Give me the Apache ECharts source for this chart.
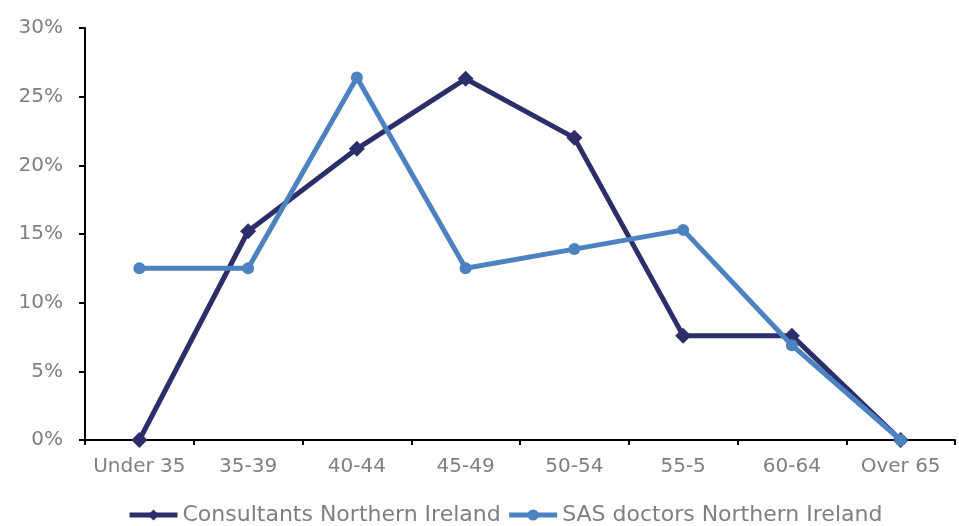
<!DOCTYPE html>
<html>
<head>
<meta charset="utf-8">
<script src="https://cdn.jsdelivr.net/npm/echarts@6/dist/echarts.min.js"></script>
<style>
  html, body { margin: 0; padding: 0; background: #ffffff; }
  #chart { width: 959px; height: 526px; }
</style>
</head>
<body>
<div id="chart"></div>
<script>
// Age bands
const ageBands = ['Under 35', '35-39', '40-44', '45-49', '50-54', '55-5', '60-64', 'Over 65'];

// Share of doctors in each age band (%)
const consultantsNI = [0, 15.2, 21.2, 26.3, 22.0, 7.6, 7.6, 0];
const sasDoctorsNI = [12.5, 12.5, 26.4, 12.5, 13.9, 15.3, 6.9, 0];

// Y axis scale
const yMin = 0;
const yMax = 30;
const yStep = 5;

const navy = '#2C2E6A';
const lightBlue = '#4D82C1';
const labelGrey = '#7f7f7f';
const fontFamily = '"DejaVu Sans", "Noto Sans", sans-serif';

const chart = echarts.init(document.getElementById('chart'), null, { renderer: 'canvas' });

chart.setOption({
  animation: false,
  backgroundColor: '#ffffff',
  grid: { left: 85, right: 4, top: 28, bottom: 86, containLabel: false },
  legend: {
    top: 499,
    left: 122,
    itemWidth: 48,
    itemHeight: 14,
    itemGap: 6,
    lineStyle: { width: 5 },
    textStyle: { color: labelGrey, fontSize: 22, fontFamily: fontFamily },
    data: ['Consultants Northern Ireland', 'SAS doctors Northern Ireland']
  },
  xAxis: {
    type: 'category',
    data: ageBands,
    boundaryGap: true,
    axisLine: { show: true, lineStyle: { color: '#000000', width: 2 } },
    axisTick: { show: true, alignWithLabel: false, length: 5, lineStyle: { color: '#000000', width: 2 } },
    axisLabel: { color: labelGrey, fontSize: 20, fontFamily: fontFamily, margin: 17, interval: 0 },
    splitLine: { show: false }
  },
  yAxis: {
    type: 'value',
    min: yMin,
    max: yMax,
    interval: yStep,
    axisLine: { show: true, lineStyle: { color: '#000000', width: 2 } },
    axisTick: { show: true, length: 6, lineStyle: { color: '#000000', width: 2 } },
    axisLabel: {
      color: labelGrey, fontSize: 20, fontFamily: fontFamily, margin: 22,
      formatter: v => v + '%'
    },
    splitLine: { show: false }
  },
  series: [
    {
      name: 'Consultants Northern Ireland',
      type: 'line',
      data: consultantsNI,
      symbol: 'diamond',
      symbolSize: 16,
      lineStyle: { color: navy, width: 5 },
      itemStyle: { color: navy },
      z: 2
    },
    {
      name: 'SAS doctors Northern Ireland',
      type: 'line',
      data: sasDoctorsNI,
      symbol: 'circle',
      symbolSize: 12,
      lineStyle: { color: lightBlue, width: 5 },
      itemStyle: { color: lightBlue },
      z: 3
    }
  ]
});
</script>
</body>
</html>
